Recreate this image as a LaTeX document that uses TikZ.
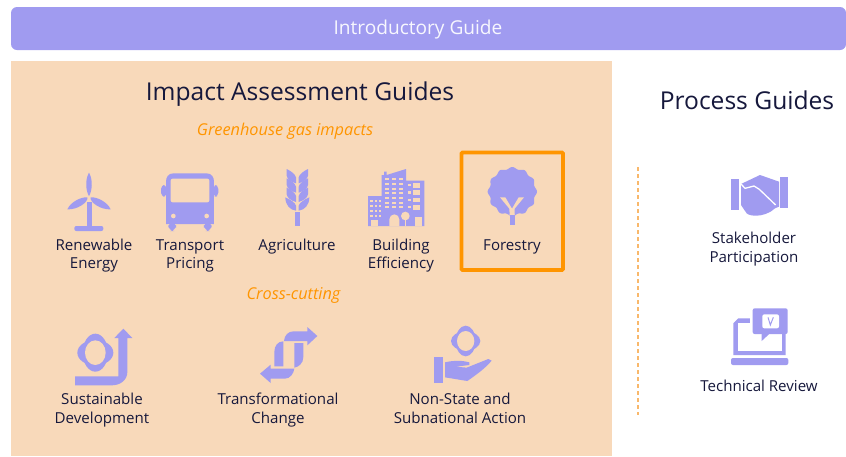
\documentclass[tikz,border=0pt]{standalone}
\usepackage{fontspec}
\setmainfont{Open Sans}
\usepackage{xcolor}
\usetikzlibrary{positioning}
\definecolor{iconblue}{RGB}{160,155,240}
\definecolor{panelpeach}{RGB}{248,217,186}
\definecolor{boxorange}{RGB}{255,149,0}
\definecolor{dashorange}{RGB}{249,184,107}
\definecolor{labelnavy}{RGB}{22,24,60}
\tikzset{
  iconfill/.style={fill=iconblue,draw=none},
  holefill/.style={fill=panelpeach,draw=none},
  guidelabel/.style={align=center,text=labelnavy,font=\fontsize{15.1}{18.5}\selectfont,inner sep=0pt},
  headlabel/.style={text=labelnavy,font=\fontsize{24.6}{30}\selectfont,inner sep=0pt},
  sublabel/.style={text=boxorange,font=\fontsize{16.3}{20}\selectfont\itshape,inner sep=0pt},
  iconscope/.style={shift={#1},scale=1/3}
}
\begin{document}
\begin{tikzpicture}[x=1pt,y=-1pt]
    \useasboundingbox (0,0) rectangle (846,456);
    \fill[white] (0,0) rectangle (846,456);

    % bar and panel
    \fill[iconblue,rounded corners=6pt] (11,7) rectangle (846,50);
    \node[text=white!92!iconblue,font=\fontsize{19.1}{22}\selectfont,inner sep=0pt] (introguide) at (418,30) {Introductory Guide};
    \fill[panelpeach] (11,61) rectangle (612,456);
    \draw[boxorange,line width=3.6pt,rounded corners=1pt] (461.5,152.5) rectangle (563,270);
    \draw[dashorange,line width=1.2pt,dash pattern=on 4pt off 3pt] (638,167) -- (638,415);

    \node[headlabel] (impacthead) at (300,94) {Impact Assessment Guides};
    \node[headlabel] (processhead) at (747,100) {Process Guides};
    \node[sublabel] (ghglabel) at (285,131) {Greenhouse gas impacts};
    \node[sublabel] (crosslabel) at (293.5,295) {Cross-cutting};

    % labels
    \node[guidelabel] (renewable) at (94,255.5) {Renewable\\Energy};
    \node[guidelabel] (transport) at (190,256) {Transport\\Pricing};
    \node[guidelabel] (agriculture) at (297,247) {Agriculture};
    \node[guidelabel] (building) at (401,255.5) {Building\\Efficiency};
    \node[guidelabel] (forestry) at (512,247) {Forestry};
    \node[guidelabel] (sustainable) at (102,410) {Sustainable\\Development};
    \node[guidelabel] (transformational) at (278,410) {Transformational\\Change};
    \node[guidelabel] (nonstate) at (460,408.5) {Non-State and\\Subnational Action};
    \node[guidelabel] (stakeholder) at (754,249) {Stakeholder\\Participation};
    \node[guidelabel] (techreview) at (759,386) {Technical Review};

    % turbine
    \begin{scope}[iconscope={(40,150)}]
      \fill[iconfill] (147,68) .. controls (160,90) and (156,125) .. (147,138) .. controls (138,125) and (134,90) .. (147,68) -- cycle;
      \fill[iconfill] (82,178) .. controls (92,155) and (125,140) .. (142,142) .. controls (146,156) and (112,180) .. (82,178) -- cycle;
      \fill[iconfill] (212,178) .. controls (202,155) and (169,140) .. (152,142) .. controls (148,156) and (182,180) .. (212,178) -- cycle;
      \fill[iconfill] (140,155) rectangle (155,228);
      \fill[iconfill,rounded corners=2pt] (103,228) rectangle (190,243);
    \end{scope}

    % bus
    \begin{scope}[iconscope={(40,150)}]
      \fill[iconfill] (378,222) -- (378,95) .. controls (378,82) and (385,70) .. (400,70) -- (500,70) .. controls (515,70) and (522,82) .. (522,95) -- (522,222) -- cycle;
      \fill[holefill,rounded corners=2pt] (392,86) rectangle (508,157);
      \fill[iconfill,rounded corners=4pt] (363,105) rectangle (380,140);
      \fill[iconfill,rounded corners=4pt] (520,105) rectangle (535,140);
      \fill[iconfill,rounded corners=6pt] (385,215) rectangle (408,243);
      \fill[iconfill,rounded corners=6pt] (492,215) rectangle (515,243);
      \fill[holefill] (400,198) circle (7);
      \fill[holefill] (500,198) circle (7);
    \end{scope}

    % wheat
    \begin{scope}[iconscope={(270,160)}]
      \fill[iconfill] (74,155) rectangle (90,197);
      \foreach \dy in {0,28,56} {
        \fill[iconfill] (50,27+\dy) .. controls (62,33+\dy) and (76,42+\dy) .. (78,52+\dy) -- (78,70+\dy) .. controls (62,65+\dy) and (52,58+\dy) .. (50,47+\dy) -- cycle;
        \fill[iconfill] (114,27+\dy) .. controls (102,33+\dy) and (88,42+\dy) .. (86,52+\dy) -- (86,70+\dy) .. controls (102,65+\dy) and (112,58+\dy) .. (114,47+\dy) -- cycle;
      }
      \fill[iconfill] (46,112) .. controls (60,118) and (76,128) .. (78,137) -- (78,152) .. controls (60,150) and (46,135) .. (46,112) -- cycle;
      \fill[iconfill] (118,112) .. controls (104,118) and (88,128) .. (86,137) -- (86,152) .. controls (104,150) and (118,135) .. (118,112) -- cycle;
    \end{scope}

    % buildings
    \begin{scope}[iconscope={(360,160)}]
      \fill[iconfill] (24,198) -- (24,108) -- (65,108) -- (65,45) -- (72,45) -- (72,35) -- (80,35) -- (80,45) -- (138,27) -- (138,62) -- (193,62) -- (193,198) -- cycle;
      \foreach \y in {55,69,83,97,111,125,139} {
        \foreach \x in {74,95,116} {
          \fill[holefill] (\x,\y) rectangle ++(14,6);
        }
      }
      \foreach \y in {72,94,116,138} {
        \fill[holefill] (145,\y) rectangle ++(7,7);
        \fill[holefill] (160,\y-3) rectangle ++(20,14);
      }
      \foreach \x in {31,44,57} {
        \foreach \y in {120,135,150,165} {
          \fill[holefill] (\x,\y) rectangle ++(7,7);
        }
      }
      \fill[holefill] (88,198) -- (88,178) arc (180:360:15) -- (118,198) -- cycle;
      \fill[holefill] (33,198) rectangle (55,180);
      \fill[holefill] (165,198) rectangle (185,172);
      \fill[holefill] (136,168) circle (13);
      \fill[holefill] (134,178) rectangle (138,198);
    \end{scope}

    % tree
    \begin{scope}[iconscope={(480,160)}]
      \fill[iconfill] plot[domain=0:360,samples=144,smooth] ({97+(71+3*cos(12*\x))*cos(\x)},{95+(71+3*cos(12*\x))*sin(\x)}) -- cycle;
      \fill[holefill] (60,112) -- (76,112) -- (96,146) -- (104,165) -- (89,165) -- (88,146) -- cycle;
      \fill[holefill] (132,112) -- (116,112) -- (96,146) -- (89,165) -- (104,165) -- (104,146) -- cycle;
      \fill[iconfill] (90,165) rectangle (104,195);
    \end{scope}

    % sustainable
    \begin{scope}[iconscope={(70,322)}]
      \fill[iconfill] (76,92) ellipse (54 and 38);
      \fill[iconfill] (76,92) ellipse (38 and 57);
      \fill[holefill] (76,92) ellipse (31 and 37);
      \fill[iconfill] (15,163) -- (145,163) -- (145,48) -- (133,48) -- (160,20) -- (187,48) -- (172,48) -- (172,150) .. controls (172,175) and (150,190) .. (125,190) -- (15,190) -- cycle;
    \end{scope}

    % transformation
    \begin{scope}[iconscope={(255,322)}]
      \fill[iconfill] (187,42) -- (157,15) -- (157,28) -- (115,28) .. controls (100,28) and (88,40) .. (87,57) -- (157,57) -- (157,70) -- cycle;
      \fill[iconfill] (85,58) .. controls (68,58) and (58,72) .. (58,90) -- (58,133) -- (85,133) -- cycle;
      \fill[iconfill] (118,63) -- (145,63) -- (145,105) .. controls (145,125) and (130,135) .. (118,137) -- cycle;
      \fill[iconfill] (15,155) -- (47,128) -- (47,140) -- (118,140) .. controls (116,155) and (105,170) .. (90,170) -- (47,170) -- (47,183) -- cycle;
    \end{scope}

    % hand
    \begin{scope}[iconscope={(380,320)}]
      \fill[iconfill] (257,63) ellipse (44 and 29);
      \fill[iconfill] (257,63) ellipse (30 and 46);
      \fill[holefill] (257,63) ellipse (26 and 30);
      \fill[iconfill] (163,110) rectangle (190,188);
      \fill[iconfill] (195,127) .. controls (225,120) and (250,122) .. (268,127) -- (268,135) -- (228,140) -- (260,143) -- (325,117) -- (335,122) .. controls (315,145) and (295,160) .. (262,183) -- (195,172) -- cycle;
    \end{scope}

    % handshake
    \begin{scope}[iconscope={(630,160)}]
      \fill[iconfill] (303,58) rectangle (328,150);
      \fill[iconfill] (450,52) rectangle (475,145);
      \fill[iconfill] (333,72) -- (390,45) -- (447,65) -- (447,140) -- (435,145) .. controls (420,160) and (395,167) .. (380,167) .. controls (365,167) and (355,165) .. (350,160) -- (333,135) -- cycle;
      \draw[white,line width=1.3pt] (333,72) -- (345,85) -- (372,78) -- (388,88) -- (437,135);
    \end{scope}

    % laptop
    \begin{scope}[iconscope={(630,160)}]
      \fill[iconfill] (310,585) -- (310,490) -- (325,475) -- (467,475) -- (467,585) -- cycle;
      \fill[white] (325,490) rectangle (455,572);
      \fill[iconfill,rounded corners=2pt] (303,594) rectangle (475,615);
      \fill[white] (360,467) rectangle (368,490);
      \fill[iconfill,rounded corners=2pt] (368,445) rectangle (473,522);
      \fill[iconfill] (395,515) -- (395,543) -- (422,518) -- cycle;
      \fill[white,rounded corners=2pt] (397,463) rectangle (447,505);
      \draw[iconblue,line width=1pt] (414,472) -- (421,495) -- (430,472);
    \end{scope}
\end{tikzpicture}
\end{document}
